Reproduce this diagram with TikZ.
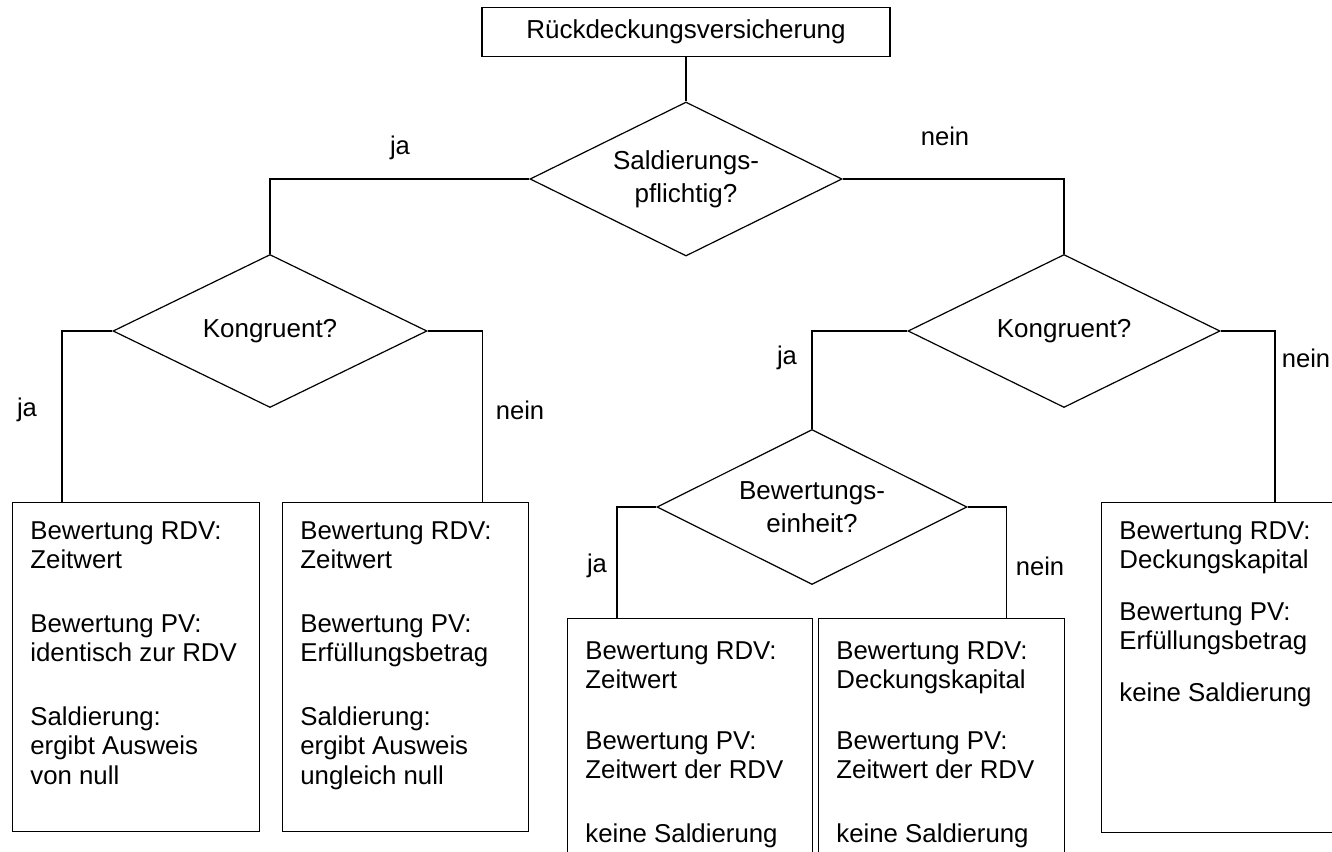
\documentclass[tikz,border=0pt]{standalone}
\usepackage{fontspec}
\setmainfont{Liberation Sans}
\usetikzlibrary{shapes.geometric,calc}
\begin{document}
\begin{tikzpicture}[x=0.5pt,y=-0.5pt,
  ln/.style={draw=black, line width=0.6pt},
  dia/.style={shape=diamond, draw=black, line width=0.6pt, aspect=2, inner sep=0pt,
    align=center, font=\fontsize{13}{16.5}\selectfont},
  resbox/.style={draw=black, line width=0.6pt, anchor=north west, inner sep=0pt, minimum width=123pt},
  restext/.style={anchor=north west, inner sep=0pt, align=left, font=\fontsize{12.9}{14.75}\selectfont},
  lbl/.style={inner sep=0pt, font=\fontsize{12.8}{14}\selectfont}]
\clip (0,0) rectangle (1332,851);
\fill[white] (0,0) rectangle (1332,851);

% top box
\node[draw=black, line width=0.6pt, minimum width=204pt, minimum height=24.5pt, inner sep=0pt,
  font=\fontsize{13}{15}\selectfont] (top) at (686,32) {Rückdeckungsversicherung};

% diamonds
\node[dia, minimum width=156pt, minimum height=77pt] (S) at (686,179) {Saldierungs-\\pflichtig?};
\node[dia, minimum width=157pt, minimum height=76.5pt] (K1) at (270,331) {Kongruent?};
\node[dia, minimum width=156pt, minimum height=76.5pt] (K2) at (1064,331) {Kongruent?};
\node[dia, minimum width=155pt, minimum height=77.5pt] (BE) at (812,507) {Bewertungs-\\einheit?};

% result boxes
\node[resbox, minimum width=123.5pt, minimum height=164.5pt] (B1) at (12,502) {};
\node[resbox, minimum height=164.5pt] (B2) at (282,502) {};
\node[resbox, minimum width=122.5pt, minimum height=150pt] (B3) at (567,618) {};
\node[resbox, minimum width=123pt, minimum height=150pt] (B4) at (818,618) {};
\node[resbox, minimum width=123pt, minimum height=165pt] (B5) at (1101,502) {};

\node[restext] (T1) at (30,521) {Bewertung RDV:\\Zeitwert\\[17pt]Bewertung PV:\\identisch zur RDV\\[17pt]Saldierung:\\ergibt Ausweis\\von null};
\node[restext] (T2) at (300,521) {Bewertung RDV:\\Zeitwert\\[17pt]Bewertung PV:\\Erfüllungsbetrag\\[17pt]Saldierung:\\ergibt Ausweis\\ungleich null};
\node[restext] (T3) at (585,641) {Bewertung RDV:\\Zeitwert\\[15.5pt]Bewertung PV:\\Zeitwert der RDV\\[17pt]keine Saldierung};
\node[restext] (T4) at (836,641) {Bewertung RDV:\\Deckungskapital\\[15.5pt]Bewertung PV:\\Zeitwert der RDV\\[17pt]keine Saldierung};
\node[restext] (T5) at (1119,521) {Bewertung RDV:\\Deckungskapital\\[11pt]Bewertung PV:\\Erfüllungsbetrag\\[11pt]keine Saldierung};

% connectors
\draw[ln] (top) -- (S);
\draw[ln] (S.west) -| (K1.north);
\draw[ln] (S.east) -| (K2.north);
\draw[ln] (K1.west) -| ([xshift=25pt]B1.north west);
\draw[ln] (K1.east) -| ([xshift=-23.5pt]B2.north east);
\draw[ln] (K2.west) -| (BE.north);
\draw[ln] (K2.east) -| ([xshift=87pt]B5.north west);
\draw[ln] (BE.west) -| ([xshift=25pt]B3.north west);
\draw[ln] (BE.east) -| ([xshift=-29.5pt]B4.north east);

% labels
\node[lbl] (l1) at (400,148) {ja};
\node[lbl] (l2) at (945,136) {nein};
\node[lbl] (l3) at (27,410) {ja};
\node[lbl] (l4) at (520,410) {nein};
\node[lbl] (l5) at (787,358) {ja};
\node[lbl] (l6) at (1306,358) {nein};
\node[lbl] (l7) at (597,566) {ja};
\node[lbl] (l8) at (1040,566) {nein};
\end{tikzpicture}
\end{document}
